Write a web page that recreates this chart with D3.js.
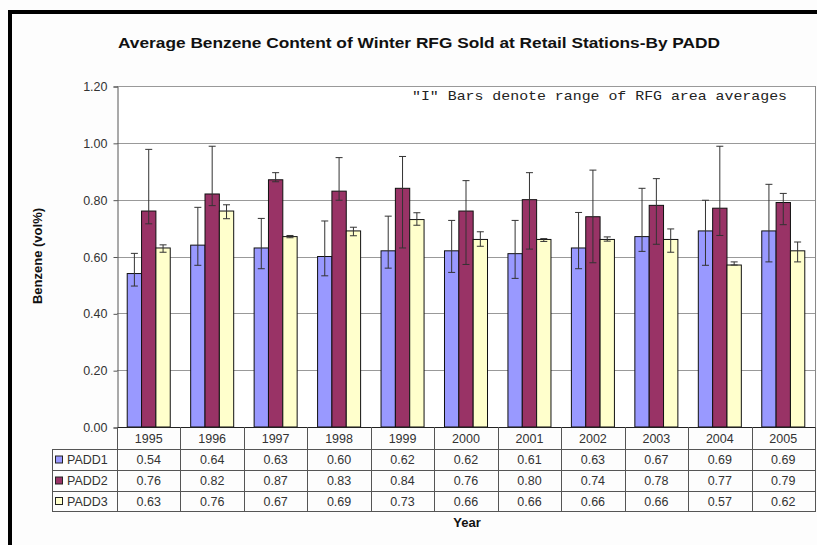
<!DOCTYPE html>
<html><head><meta charset="utf-8">
<script src="https://cdn.jsdelivr.net/npm/d3@7"></script>
<style>
body{margin:0;background:#fdfdfd;}
svg{display:block;font-family:"Liberation Sans",Arial,sans-serif;}
</style></head>
<body><svg id="c" width="817" height="545"></svg>
<script>
const years = ["1995","1996","1997","1998","1999","2000","2001","2002","2003","2004","2005"];
const seriesNames = ["PADD1","PADD2","PADD3"];
const padd1 = [0.54,0.64,0.63,0.60,0.62,0.62,0.61,0.63,0.67,0.69,0.69];
const padd2 = [0.76,0.82,0.87,0.83,0.84,0.76,0.80,0.74,0.78,0.77,0.79];
const padd3 = [0.63,0.76,0.67,0.69,0.73,0.66,0.66,0.66,0.66,0.57,0.62];
const padd1Hi = [0.611,0.773,0.734,0.725,0.742,0.727,0.727,0.755,0.840,0.798,0.854];
const padd1Lo = [0.496,0.569,0.557,0.532,0.559,0.544,0.523,0.557,0.618,0.569,0.581];
const padd2Hi = [0.977,0.988,0.895,0.948,0.952,0.867,0.895,0.904,0.874,0.988,0.822];
const padd2Lo = [0.715,0.779,0.863,0.798,0.630,0.572,0.626,0.578,0.643,0.674,0.712];
const padd3Hi = [0.641,0.782,0.674,0.703,0.754,0.687,0.663,0.669,0.697,0.581,0.651];
const padd3Lo = [0.615,0.733,0.666,0.673,0.710,0.636,0.653,0.654,0.615,0.570,0.581];
const yTicks = [0,0.2,0.4,0.6,0.8,1.0,1.2];
const colors = ["#9999FF","#993366","#FFFFCC"];

const values = [padd1,padd2,padd3];
const his = [padd1Hi,padd2Hi,padd3Hi];
const los = [padd1Lo,padd2Lo,padd3Lo];

const svg = d3.select("#c");
const L = 117, R = 815, T = 86, B = 427;

svg.append("rect").attr("x",8).attr("y",10).attr("width",809).attr("height",4).attr("fill","#000");
svg.append("rect").attr("x",8).attr("y",10).attr("width",4).attr("height",535).attr("fill","#000");

svg.append("text").attr("x",419).attr("y",48).attr("text-anchor","middle")
  .attr("font-size",15).attr("font-weight","bold").attr("fill","#111")
  .attr("textLength",602).attr("lengthAdjust","spacingAndGlyphs")
  .text("Average Benzene Content of Winter RFG Sold at Retail Stations-By PADD");

const x = d3.scaleBand().domain(years).range([L,R]).paddingInner(0.322).paddingOuter(0.161);
const xs = d3.scaleBand().domain(seriesNames).range([0,x.bandwidth()]);
const y = d3.scaleLinear().domain([0,1.2]).range([B,T]);

svg.append("rect").attr("x",L).attr("y",T).attr("width",R-L).attr("height",B-T).attr("fill","#fff");

svg.append("g").selectAll("line").data(yTicks.filter(d=>d>0)).join("line")
  .attr("x1",L).attr("x2",R).attr("y1",d=>Math.round(y(d))+0.5).attr("y2",d=>Math.round(y(d))+0.5)
  .attr("stroke","#999").attr("stroke-width",1);
svg.append("line").attr("x1",R+0.5).attr("x2",R+0.5).attr("y1",T).attr("y2",B).attr("stroke","#888");

const yAxis = d3.axisLeft(y).tickValues(yTicks).tickFormat(d3.format(".2f")).tickSize(4).tickPadding(6);
const ga = svg.append("g").attr("transform",`translate(${L+0.5},0.5)`).call(yAxis);
ga.select(".domain").attr("stroke","#555");
ga.selectAll(".tick line").attr("stroke","#555");
ga.selectAll(".tick text").attr("font-size",12.5).attr("fill","#333").attr("font-family","Liberation Sans, Arial, sans-serif");

svg.append("text").attr("transform","translate(42,256) rotate(-90)").attr("text-anchor","middle")
  .attr("font-size",13).attr("font-weight","bold").attr("fill","#111").text("Benzene (vol%)");

const groups = svg.append("g").selectAll("g").data(years).join("g")
  .attr("transform",d=>`translate(${x(d)},0)`);
seriesNames.forEach((s,si)=>{
  groups.append("rect")
    .attr("x",xs(s)).attr("width",xs.bandwidth())
    .attr("y",(d,i)=>y(values[si][i])).attr("height",(d,i)=>B-y(values[si][i]))
    .attr("fill",colors[si]).attr("stroke","#111").attr("stroke-width",1);
});
seriesNames.forEach((s,si)=>{
  const cx = xs(s)+xs.bandwidth()/2;
  const eg = groups.append("g").attr("stroke","#333").attr("stroke-width",1);
  eg.append("line").attr("x1",cx).attr("x2",cx).attr("y1",(d,i)=>y(his[si][i])).attr("y2",(d,i)=>y(los[si][i]));
  eg.append("line").attr("x1",cx-3.5).attr("x2",cx+3.5).attr("y1",(d,i)=>y(his[si][i])).attr("y2",(d,i)=>y(his[si][i]));
  eg.append("line").attr("x1",cx-3.5).attr("x2",cx+3.5).attr("y1",(d,i)=>y(los[si][i])).attr("y2",(d,i)=>y(los[si][i]));
});

svg.append("line").attr("x1",L).attr("x2",R+1).attr("y1",B+0.5).attr("y2",B+0.5).attr("stroke","#222");

svg.append("text").attr("x",412).attr("y",100).attr("font-family","Liberation Mono, Courier New, monospace")
  .attr("font-size",13.5).attr("fill","#222").attr("textLength",375).attr("lengthAdjust","spacingAndGlyphs")
  .text('"I" Bars denote range of RFG area averages');

const rowEdges = [427,449,470,491,511];
const step = x.step();
const tab = svg.append("g");
const colEdges = years.map((d,i)=>L + i*step).concat([R]);
tab.selectAll("line.v").data(colEdges).join("line")
  .attr("x1",d=>Math.round(d)+0.5).attr("x2",d=>Math.round(d)+0.5).attr("y1",427).attr("y2",511)
  .attr("stroke","#555");
tab.append("line").attr("x1",52.5).attr("x2",52.5).attr("y1",449).attr("y2",511).attr("stroke","#555");
rowEdges.slice(1).forEach(r=>{
  tab.append("line").attr("x1",52).attr("x2",R+1).attr("y1",r+0.5).attr("y2",r+0.5).attr("stroke","#555");
});
tab.selectAll("text.yr").data(years).join("text")
  .attr("x",d=>x(d)+x.bandwidth()/2).attr("y",443).attr("text-anchor","middle")
  .attr("font-size",12.5).attr("fill","#333").text(d=>d);
seriesNames.forEach((s,si)=>{
  const yc = (rowEdges[si+1]+rowEdges[si+2])/2;
  tab.append("rect").attr("x",55.5).attr("y",yc-3.5).attr("width",7).attr("height",7)
    .attr("fill",colors[si]).attr("stroke","#222");
  tab.append("text").attr("x",67).attr("y",yc+4.5).attr("font-size",12.5).attr("fill","#333").text(s);
  tab.selectAll("text.v"+si).data(years).join("text")
    .attr("x",d=>x(d)+x.bandwidth()/2).attr("y",yc+4.5).attr("text-anchor","middle")
    .attr("font-size",12.5).attr("fill","#333").text((d,i)=>d3.format(".2f")(values[si][i]));
});

svg.append("text").attr("x",467).attr("y",527).attr("text-anchor","middle")
  .attr("font-size",13).attr("font-weight","bold").attr("fill","#111").text("Year");
</script></body></html>
